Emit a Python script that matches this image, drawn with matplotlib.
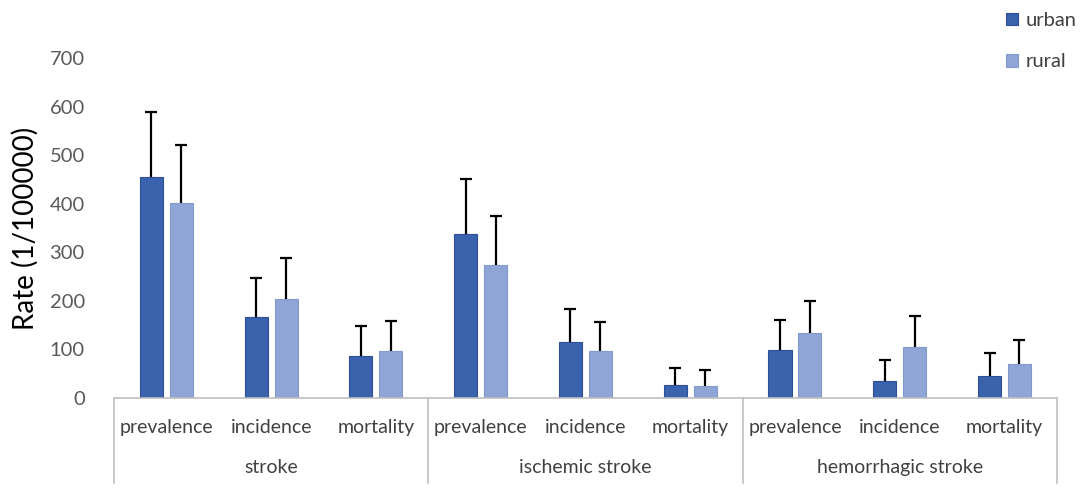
import matplotlib.pyplot as plt
import numpy as np

plt.rcParams['font.family'] = ['Lato', 'DejaVu Sans']

# data
groups = ["stroke", "ischemic stroke", "hemorrhagic stroke"]
measures = ["prevalence", "incidence", "mortality"]
urban = [455, 166, 86, 337, 116, 26, 98, 36, 46]
urban_top = [589, 248, 148, 452, 184, 61, 160, 78, 93]
rural = [402, 203, 97, 275, 96, 24, 134, 105, 70]
rural_top = [521, 289, 158, 376, 156, 57, 200, 168, 120]
yticks = [0, 100, 200, 300, 400, 500, 600, 700]

c_urban = "#3B62AD"
c_rural = "#8FA5D6"
grey = "#BFBFBF"

n = len(urban)
x = np.arange(n)
w = 0.22
off = 0.143

fig = plt.figure(figsize=(10.84, 4.94), dpi=100)
ax = fig.add_axes([0.1052, 0.1943, 0.975 - 0.1052, 0.882 - 0.1943])

ax.bar(x - off, urban, w, color=c_urban, edgecolor="#2C4F97", linewidth=0.8, label="urban")
ax.bar(x + off, rural, w, color=c_rural, edgecolor="#8299CC", linewidth=0.8, label="rural")

# upper error bars only (no cap at the bar top)
for xs, lo, hi in [(x - off, urban, urban_top), (x + off, rural, rural_top)]:
    ax.vlines(xs, lo, hi, color="black", lw=1.6, zorder=3)
    ax.plot(xs, hi, ls="none", marker="_", ms=8, mew=1.6, color="black", zorder=3)

ax.set_xlim(-0.5, n - 0.5)
ax.set_ylim(0, 700)
ax.set_yticks(yticks)
ax.tick_params(axis="y", length=0, pad=21, labelsize=14.5, labelcolor="#595959")
ax.set_ylabel("Rate (1/100000)", fontsize=20, labelpad=8)

for s in ["top", "right", "left"]:
    ax.spines[s].set_visible(False)
ax.spines["bottom"].set_color(grey)
ax.spines["bottom"].set_linewidth(1.2)

ax.set_xticks(x)
ax.set_xticklabels(measures * len(groups), fontsize=14, color="#404040")
ax.tick_params(axis="x", length=0, pad=15)

# group labels and separators below the axis
trans = ax.get_xaxis_transform()
per = len(measures)
for i, g in enumerate(groups):
    mid = i * per + (per - 1) / 2
    ax.text(mid, -0.205, g, transform=trans, ha="center", va="center",
            fontsize=14, color="#404040")
for b in range(len(groups) + 1):
    xb = b * per - 0.5
    ax.plot([xb, xb], [0, -0.25], transform=trans, color=grey, lw=1.2, clip_on=False)

leg = fig.legend(loc="upper right", bbox_to_anchor=(1.01, 1.012), frameon=False,
                 fontsize=14.5, handlelength=0.6, handleheight=0.6,
                 handletextpad=0.4, labelspacing=1.2)
for t in leg.get_texts():
    t.set_color("#404040")

fig.savefig("out.png", dpi=100)
